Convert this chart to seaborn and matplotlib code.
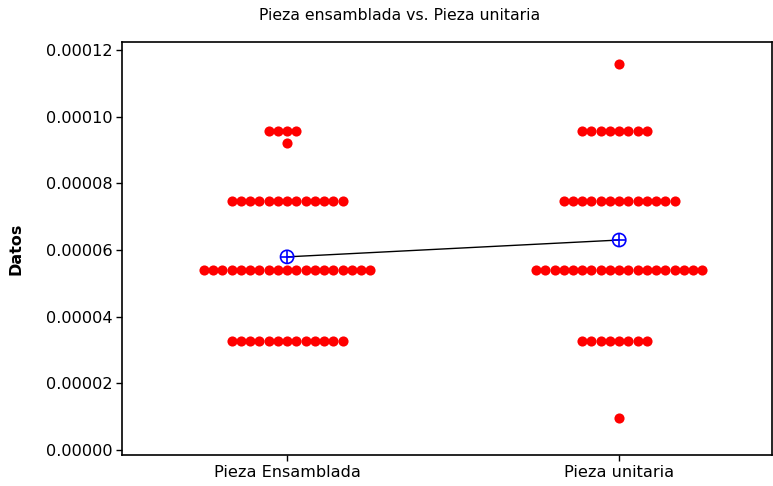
import pandas as pd
import matplotlib.pyplot as plt
import seaborn as sns

# valores (cada nivel con su cantidad de puntos)
grupos = ["Pieza Ensamblada", "Pieza unitaria"]
ens_valores = [0.0000957, 0.0000921, 0.0000747, 0.0000540, 0.0000327]
ens_conteos = [4, 1, 13, 19, 13]
uni_valores = [0.0001158, 0.0000957, 0.0000747, 0.0000540, 0.0000327, 0.0000096]
uni_conteos = [1, 8, 13, 19, 8, 1]

filas = []
for v, n in zip(ens_valores, ens_conteos):
    filas += [(grupos[0], v)] * n
for v, n in zip(uni_valores, uni_conteos):
    filas += [(grupos[1], v)] * n
df = pd.DataFrame(filas, columns=["Grupo", "Datos"])
medias = df.groupby("Grupo", sort=False)["Datos"].mean().reset_index()

sns.set_theme(style="white")
plt.rcParams["font.family"] = ["DejaVu Sans"]
plt.rcParams["text.color"] = "black"
plt.rcParams["axes.labelcolor"] = "black"

fig = plt.figure(figsize=(7.73, 4.86), dpi=100)
ax = fig.add_axes([122 / 773, 31 / 486, 650 / 773, 413 / 486])

# el enjambre se calcula con puntos algo menores y luego se agrandan
sns.swarmplot(data=df, x="Grupo", y="Datos", order=grupos, color="#ff0000",
              size=6.2, linewidth=0, ax=ax)
enjambres = list(ax.collections)
fig.canvas.draw()
for c in enjambres:
    if "draw" in c.__dict__:
        del c.draw
    c.set_sizes([7.3 ** 2])

sns.lineplot(data=medias, x="Grupo", y="Datos", color="black", linewidth=1,
             ax=ax, zorder=3)
sns.scatterplot(data=medias, x="Grupo", y="Datos", marker="o", s=90,
                facecolor="none", edgecolor="#0000ff", linewidth=1.2, ax=ax, zorder=4)
sns.scatterplot(data=medias, x="Grupo", y="Datos", marker="+", s=90,
                color="#0000ff", linewidth=1.2, ax=ax, zorder=4)

ax.set_xlim(-0.497, 1.46)
ax.set_ylim(-0.0000015, 0.0001224)
ax.set_yticks([0, 0.00002, 0.00004, 0.00006, 0.00008, 0.0001, 0.00012])
ax.set_yticklabels([f"{t:.5f}" for t in ax.get_yticks()])
ax.tick_params(axis="both", which="major", labelsize=11.6, length=4, width=1,
               direction="out", left=True, bottom=True, colors="black", pad=3)
for s in ax.spines.values():
    s.set_color("black")
    s.set_linewidth(1.2)
ax.set_xlabel("")
ax.set_ylabel("Datos", fontsize=11.5, fontweight="bold", color="black")
ax.yaxis.set_label_coords(-98 / 650, 0.5)
fig.text(400 / 773, 1 - 15 / 486, "Pieza ensamblada vs. Pieza unitaria",
         fontsize=11.3, ha="center", va="center", color="black")

plt.savefig("out.png", dpi=100)
